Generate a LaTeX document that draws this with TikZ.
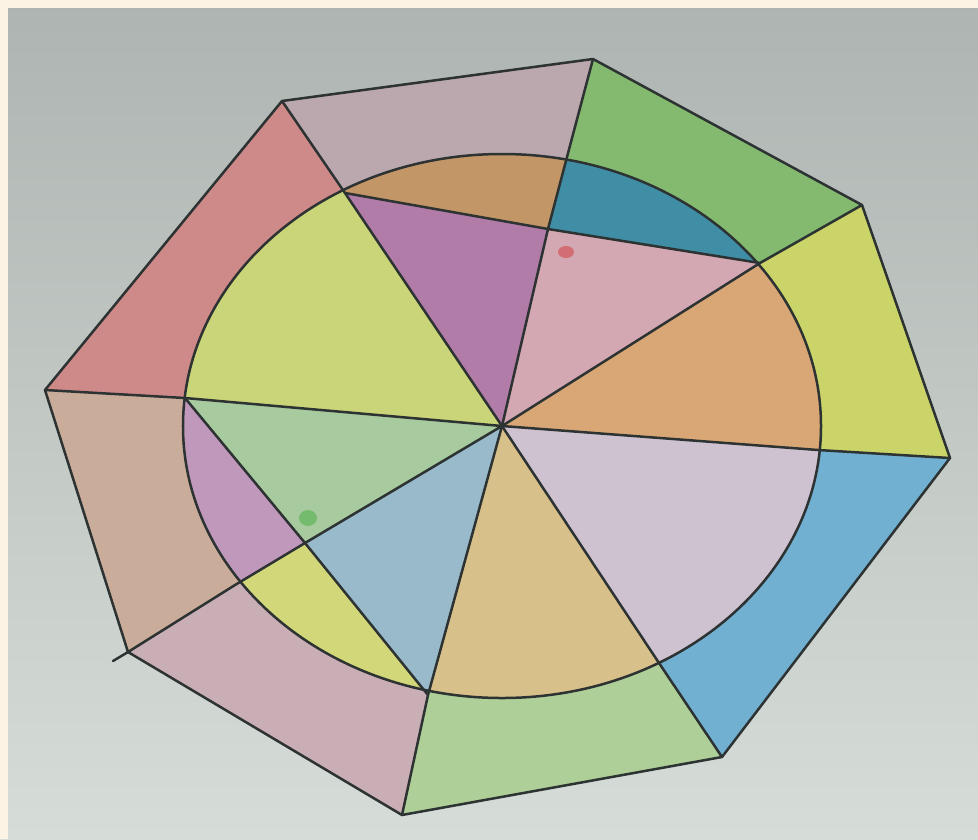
\documentclass[tikz,border=0pt]{standalone}
\definecolor{paperTop}{RGB}{174,180,177}
\definecolor{paperBot}{RGB}{214,220,215}
\definecolor{frameC}{RGB}{252,243,228}
\definecolor{penC}{RGB}{45,50,50}
% outer ring
\definecolor{rTop}{RGB}{186,168,174}
\definecolor{rTR}{RGB}{132,186,112}
\definecolor{rR}{RGB}{202,212,104}
\definecolor{rBR}{RGB}{114,176,210}
\definecolor{rB}{RGB}{174,207,152}
\definecolor{rBL}{RGB}{202,174,182}
\definecolor{rL}{RGB}{202,172,154}
\definecolor{rTL}{RGB}{206,138,136}
% inner
\definecolor{iUL}{RGB}{202,212,120}
\definecolor{iTopCap}{RGB}{194,150,102}
\definecolor{iTopTri}{RGB}{178,124,168}
\definecolor{iTRCap}{RGB}{64,142,166}
\definecolor{iTRTri}{RGB}{212,168,178}
\definecolor{iR}{RGB}{216,167,117}
\definecolor{iBR}{RGB}{207,194,208}
\definecolor{iB}{RGB}{216,192,138}
\definecolor{iBLTri}{RGB}{152,186,202}
\definecolor{iBLCap}{RGB}{210,216,122}
\definecolor{iLTri}{RGB}{167,202,158}
\definecolor{iLCap}{RGB}{192,152,188}
\begin{document}
\begin{tikzpicture}[x=0.2mm,y=-0.2mm,line join=round,line cap=round,
  pen/.style={draw=penC,line width=0.5mm}]
\useasboundingbox (0,0) rectangle (978,839);
\shade[top color=paperTop,bottom color=paperBot] (0,0) rectangle (978,839);
\fill[frameC] (0,0) rectangle (978,8);
\fill[frameC] (0,0) rectangle (8,839);
% coordinates
\coordinate (C) at (502,426);
\coordinate (V1) at (282,101);
\coordinate (V2) at (593,59);
\coordinate (V3) at (862,205);
\coordinate (V4) at (950,458);
\coordinate (V5) at (722,757);
\coordinate (V6) at (402,815);
\coordinate (V7) at (128,652);
\coordinate (V8) at (45,390);
\coordinate (E1) at (345,193);
\coordinate (E2) at (567,157);
\coordinate (E3) at (760,263);
\coordinate (E4) at (818,450);
\coordinate (E5) at (657,660);
\coordinate (E6) at (428,695);
\coordinate (E7) at (235,585);
\coordinate (E8) at (185,398);
\coordinate (K2) at (548,229);
\coordinate (K7) at (305,543);
\coordinate (T7) at (113,661);
% outer ring fills
\fill[rTop] (C) -- (E1) -- (V1) -- (V2) -- (E2) -- (K2) -- cycle;
\fill[rTR] (C) -- (K2) -- (E2) -- (V2) -- (V3) -- (E3) -- cycle;
\fill[rR] (C) -- (E3) -- (V3) -- (V4) -- (E4) -- cycle;
\fill[rBR] (C) -- (E4) -- (V4) -- (V5) -- (E5) -- cycle;
\fill[rB] (C) -- (E5) -- (V5) -- (V6) -- (E6) -- cycle;
\fill[rBL] (C) -- (E6) -- (V6) -- (V7) -- (E7) -- (K7) -- cycle;
\fill[rL] (C) -- (K7) -- (E7) -- (V7) -- (V8) -- (E8) -- cycle;
\fill[rTL] (C) -- (E8) -- (V8) -- (V1) -- (E1) -- cycle;
% inner fills
\begin{scope}
\clip (502,426) ellipse [x radius=6.38cm, y radius=5.44cm];
\fill[iUL] (C) -- (E8) -- (V8) -- (V1) -- (E1) -- cycle;
\fill[iTopCap] (C) -- (E1) -- (V1) -- (V2) -- (E2) -- (K2) -- cycle;
\fill[iTRCap] (C) -- (K2) -- (E2) -- (V2) -- (V3) -- (E3) -- cycle;
\fill[iR] (C) -- (E3) -- (V3) -- (V4) -- (E4) -- cycle;
\fill[iBR] (C) -- (E4) -- (V4) -- (V5) -- (E5) -- cycle;
\fill[iB] (C) -- (E5) -- (V5) -- (V6) -- (E6) -- cycle;
\fill[iBLCap] (C) -- (E6) -- (V6) -- (V7) -- (E7) -- (K7) -- cycle;
\fill[iLCap] (C) -- (K7) -- (E7) -- (V7) -- (V8) -- (E8) -- cycle;
\fill[iTopTri] (C) -- (E1) -- (K2) -- cycle;
\fill[iTRTri] (C) -- (K2) -- (E3) -- cycle;
\fill[iBLTri] (C) -- (K7) -- (E6) -- cycle;
\fill[iLTri] (C) -- (E8) -- (K7) -- cycle;
% small pencil marks
\fill[red!80!black,opacity=0.35] (566,252) ellipse [x radius=0.16cm, y radius=0.12cm];
\fill[green!60!black,opacity=0.3] (308,518) ellipse [x radius=0.18cm, y radius=0.16cm];
\end{scope}
% lines
\draw[pen] (V1) -- (V2) -- (V3) -- (V4) -- (V5) -- (V6) -- (V7) -- (V8) -- cycle;
\draw[pen] (502,426) ellipse [x radius=6.38cm, y radius=5.44cm];
\draw[pen] (V1) -- (E1) -- (C) -- (E5) -- (V5);
\draw[pen] (V2) -- (E2) -- (K2) -- (C) -- (E6) -- (V6);
\draw[pen] (V3) -- (E3) -- (C) -- (K7) -- (E7) -- (V7) -- (T7);
\draw[pen] (V8) -- (E8) -- (C) -- (E4) -- (V4);
\draw[pen] (E1) -- (K2) -- (E3);
\draw[pen] (E8) -- (K7) -- (E6);
\end{tikzpicture}
\end{document}
